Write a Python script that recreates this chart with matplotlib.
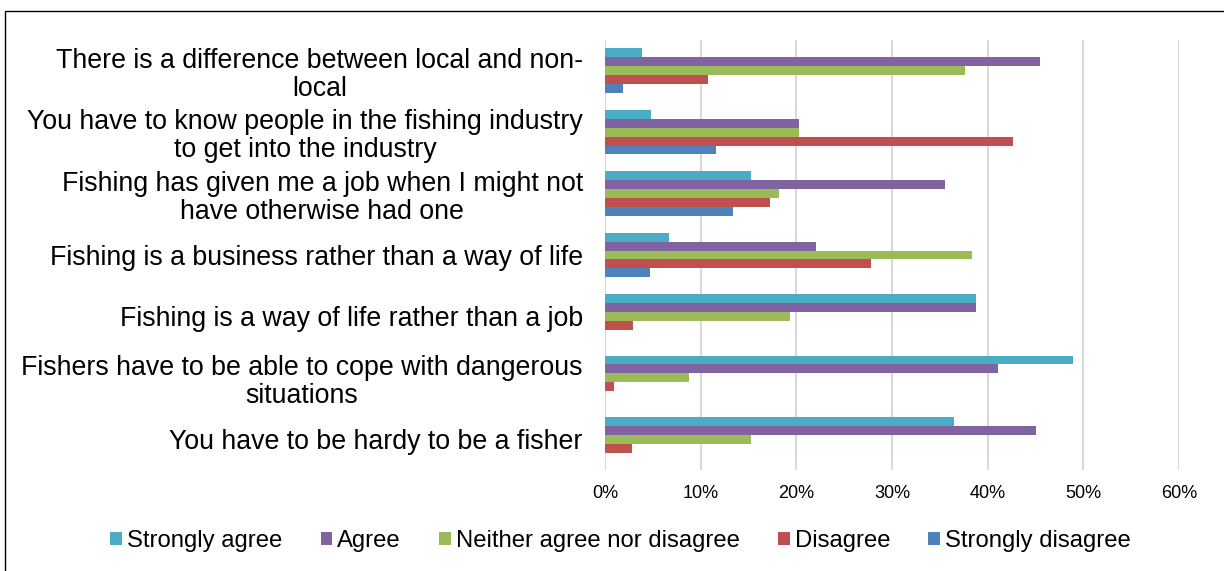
import matplotlib
matplotlib.use("Agg")
import matplotlib.pyplot as plt
from matplotlib.patches import Rectangle
import numpy as np

plt.rcParams['font.family'] = ['Liberation Sans', 'DejaVu Sans']

# Statements, listed from the bottom of the chart to the top
statements = [
    "You have to be hardy to be a fisher",
    "Fishers have to be able to cope with dangerous\nsituations",
    "Fishing is a way of life rather than a job",
    "Fishing is a business rather than a way of life",
    "Fishing has given me a job when I might not\nhave otherwise had one",
    "You have to know people in the fishing industry\nto get into the industry",
    "There is a difference between local and non-\nlocal",
]

series_names = ["Strongly agree", "Agree", "Neither agree nor disagree",
                "Disagree", "Strongly disagree"]
series_colors = ["#4BACC6", "#8064A2", "#9BBB59", "#C0504D", "#4F81BD"]

# Percent of respondents per statement (same order as statements)
strongly_agree = [36.5, 48.9, 38.8, 6.7, 15.3, 4.8, 3.9]
agree = [45.1, 41.1, 38.8, 22.1, 35.5, 20.3, 45.5]
neither = [15.3, 8.8, 19.3, 38.4, 18.2, 20.3, 37.6]
disagree = [2.8, 0.9, 2.9, 27.8, 17.2, 42.6, 10.8]
strongly_disagree = [0.0, 0.0, 0.0, 4.7, 13.4, 11.6, 1.9]

x_ticks = [0, 10, 20, 30, 40, 50, 60]
x_tick_labels = ["0%", "10%", "20%", "30%", "40%", "50%", "60%"]

W, H = 1224, 571
fig = plt.figure(figsize=(W / 100, H / 100), dpi=100)
ax = fig.add_axes([605 / W, 1 - 470 / H, (1179 - 605) / W, (470 - 40) / H])

values = [strongly_agree, agree, neither, disagree, strongly_disagree]
bar_h = 0.145
y = np.arange(len(statements))
handles = []
for i, (vals, color, name) in enumerate(zip(values, series_colors, series_names)):
    offset = (2 - i) * bar_h
    b = ax.barh(y + offset, vals, height=bar_h, color=color, edgecolor='none',
                label=name, zorder=3)
    handles.append(b)

ax.set_xlim(0, 60)
ax.set_ylim(-0.5, len(statements) - 0.5)
ax.set_xticks(x_ticks)
ax.set_xticklabels(x_tick_labels, fontsize=13)
ax.set_yticks(y)
ax.set_yticklabels(statements, fontsize=19.3, multialignment='center',
                   linespacing=1.1)
ax.tick_params(axis='both', length=0)
ax.tick_params(axis='x', pad=11)
ax.tick_params(axis='y', pad=16)
ax.grid(axis='x', color='#D9D9D9', linewidth=1.5, zorder=0)
for s in ax.spines.values():
    s.set_visible(False)

fig.legend(handles=handles, labels=series_names, loc='center',
           bbox_to_anchor=(0.507, 1 - 541 / H), ncol=5, frameon=False,
           fontsize=17.2, handlelength=0.5, handleheight=0.5,
           handletextpad=0.2, columnspacing=1.6, borderaxespad=0)

# Outer frame around the chart
fig.add_artist(Rectangle((4.5 / W, -0.1), 1.2, 1 - 10.5 / H + 0.1,
                         transform=fig.transFigure, fill=False,
                         edgecolor='black', linewidth=1.0))

fig.savefig("out.png", dpi=100)
